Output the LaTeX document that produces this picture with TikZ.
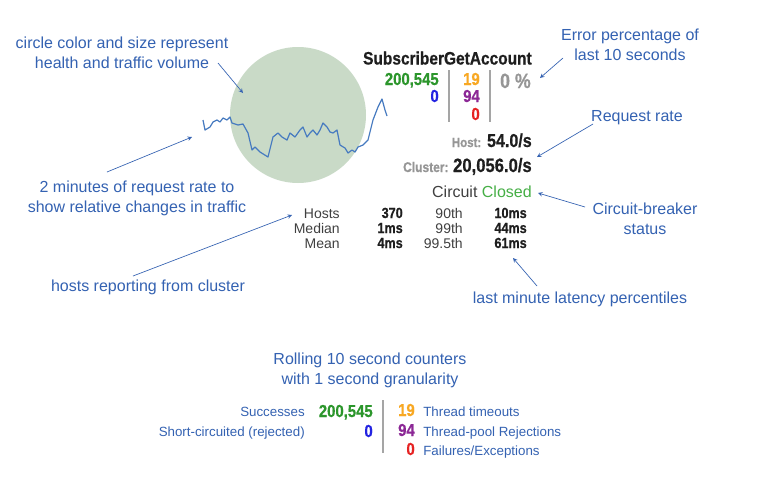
\documentclass[tikz,border=0pt]{standalone}
\usepackage{fontspec}
\setmainfont{Liberation Sans}
\newfontfamily\condfont{Liberation Sans}[FakeStretch=0.86, BoldFeatures={FakeBold=0.6}]
\usepackage{tikz}
\usetikzlibrary{arrows}
\definecolor{noteblue}{RGB}{52,98,178}
\definecolor{sparkblue}{RGB}{70,122,192}
\definecolor{circlegreen}{RGB}{201,218,199}
\definecolor{darktext}{RGB}{30,30,30}
\definecolor{pctgray}{RGB}{150,150,150}
\definecolor{sepgray}{RGB}{165,165,165}
\definecolor{okgreen}{RGB}{44,150,44}
\definecolor{closedgreen}{RGB}{70,175,70}
\definecolor{shortblue}{RGB}{35,35,225}
\definecolor{timeorange}{RGB}{248,168,35}
\definecolor{poolpurple}{RGB}{140,40,150}
\definecolor{failred}{RGB}{230,35,35}
\newcommand{\numfont}[1]{\condfont\bfseries\fontsize{#1}{#1}\selectfont}

\begin{document}
\begin{tikzpicture}[x=0.75pt, y=-0.75pt,
  note/.style={text=noteblue, font=\fontsize{12}{15}\selectfont, align=center},
  tip/.style={draw=noteblue, ->, >=stealth, line width=0.5pt},
  num/.style={anchor=base east, inner sep=0pt, font=\numfont{13}},
  bignum/.style={anchor=base east, inner sep=0pt, text=darktext},
  lbl/.style={anchor=base east, inner sep=0pt, text=darktext!85, font=\fontsize{10.5}{12}\selectfont},
  val/.style={anchor=base east, inner sep=0pt, text=darktext, font=\numfont{11}},
  key/.style={inner sep=0pt, text=noteblue, font=\fontsize{10}{12}\selectfont},
  sep/.style={draw=sepgray, line width=0.8pt}]
  \fill[white] (0,0) rectangle (757,482);
  \useasboundingbox (0,0) rectangle (757,482);

  \node[circle, fill=circlegreen, minimum size=102pt, inner sep=0pt] (health) at (298,115) {};
  \draw[sparkblue, line width=0.9pt, line join=round] plot coordinates {
    (203,120) (205,130) (210,127) (213,122) (217,120) (220,122) (223,118)
    (227,120) (230,117) (232,123) (238,125) (243,124) (248,133) (252,150)
    (255,147) (260,152) (268,157) (273,137) (278,133) (282,137) (287,140)
    (290,133) (295,137) (300,130) (303,127) (307,137) (310,133) (313,130)
    (317,135) (320,130) (323,123) (327,127) (330,132) (333,133) (337,130)
    (340,145) (345,148) (348,153) (352,150) (355,152) (358,147) (363,145)
    (368,140) (373,120) (378,107) (382,99) (385,110) (387,116)};

  \node[bignum, font=\numfont{13.5}] (command) at (532,64.5) {SubscriberGetAccount};
  \node[num, text=okgreen] (okcount) at (439,85) {200,545};
  \node[num, text=shortblue] (shortcount) at (439,102) {0};
  \draw[sep] (449,70) -- (449,122);
  \node[num, text=timeorange] (timecount) at (480,85) {19};
  \node[num, text=poolpurple] (poolcount) at (480,102) {94};
  \node[num, text=failred] (failcount) at (480,120) {0};
  \draw[sep] (490,70) -- (490,122);
  \node[bignum, text=pctgray, font=\numfont{15.5}] (errpct) at (531,88) {0 \%};

  \node[bignum, font=\numfont{14}] (hostrate) at (532,147) {54.0/s};
  \node[bignum, text=pctgray, font=\numfont{10}, xshift=-4pt] (hostlbl) at (hostrate.base west) {Host:};
  \node[bignum, font=\numfont{14.5}] (clusterrate) at (532,172) {20,056.0/s};
  \node[bignum, text=pctgray, font=\numfont{10.5}, xshift=-3pt] (clusterlbl) at (clusterrate.base west) {Cluster:};
  \node[bignum, text=darktext!85, font=\fontsize{12}{14}\selectfont] (circuit) at (532,197) {Circuit \textcolor{closedgreen}{Closed}};

  \node[lbl] (hostsname) at (340,218) {Hosts};
  \node[lbl] (medianname) at (340,233) {Median};
  \node[lbl] (meanname) at (340,248) {Mean};
  \node[val] (hostsval) at (403,218) {370};
  \node[val] (medianval) at (403,233) {1ms};
  \node[val] (meanval) at (403,248) {4ms};
  \node[lbl] (pninety) at (463,218) {90th};
  \node[lbl] (pninetynine) at (463,233) {99th};
  \node[lbl] (pninetyfive) at (463,248) {99.5th};
  \node[val] (ninetyval) at (527,218) {10ms};
  \node[val] (ninetynineval) at (527,233) {44ms};
  \node[val] (ninetyfiveval) at (527,248) {61ms};

  \node[note] (circlenote) at (122,53) {circle color and size represent\\health and traffic volume};
  \coordinate (circlefrom) at (218,63);
  \coordinate (circleto) at (243,93);
  \draw[tip] (circlefrom) -- (circleto);
  \node[note] (errnote) at (630,45) {Error percentage of\\last 10 seconds};
  \coordinate (errfrom) at (563,58);
  \coordinate (errto) at (540,78);
  \draw[tip] (errfrom) -- (errto);
  \node[note] (ratenote) at (637,118) {Request rate};
  \coordinate (ratefrom) at (593,124);
  \coordinate (rateto) at (537,157);
  \draw[tip] (ratefrom) -- (rateto);
  \node[note] (breakernote) at (645,219) {Circuit-breaker\\status};
  \coordinate (breakerfrom) at (585,207);
  \coordinate (breakerto) at (538,193);
  \draw[tip] (breakerfrom) -- (breakerto);
  \node[note] (latencynote) at (580,299) {last minute latency percentiles};
  \coordinate (latencyfrom) at (537,286);
  \coordinate (latencyto) at (513,258);
  \draw[tip] (latencyfrom) -- (latencyto);
  \node[note] (sparknote) at (137,198) {2 minutes of request rate to\\show relative changes in traffic};
  \coordinate (sparkfrom) at (107,172);
  \coordinate (sparkto) at (192,137);
  \draw[tip] (sparkfrom) -- (sparkto);
  \node[note] (hostsnote) at (148,287) {hosts reporting from cluster};
  \coordinate (hostsfrom) at (133,276);
  \coordinate (hoststo) at (292,215);
  \draw[tip] (hostsfrom) -- (hoststo);

  \node[note] (rollnote) at (370,370) {Rolling 10 second counters\\with 1 second granularity};
  \node[key, anchor=base east] (succlbl) at (305,416) {Successes};
  \node[num, text=okgreen] (succcount) at (373,417) {200,545};
  \node[key, anchor=base east] (shortlbl) at (305,436) {Short-circuited (rejected)};
  \node[num, text=shortblue] (shortcount2) at (373,437) {0};
  \draw[sep] (383,400) -- (383,453);
  \node[num, text=timeorange] (timecount2) at (415,416) {19};
  \node[num, text=poolpurple] (poolcount2) at (415,436) {94};
  \node[num, text=failred] (failcount2) at (415,455) {0};
  \node[key, anchor=base west] (timelbl) at (423,416) {Thread timeouts};
  \node[key, anchor=base west] (poollbl) at (423,436) {Thread-pool Rejections};
  \node[key, anchor=base west] (faillbl) at (423,455) {Failures/Exceptions};
\end{tikzpicture}
\end{document}
